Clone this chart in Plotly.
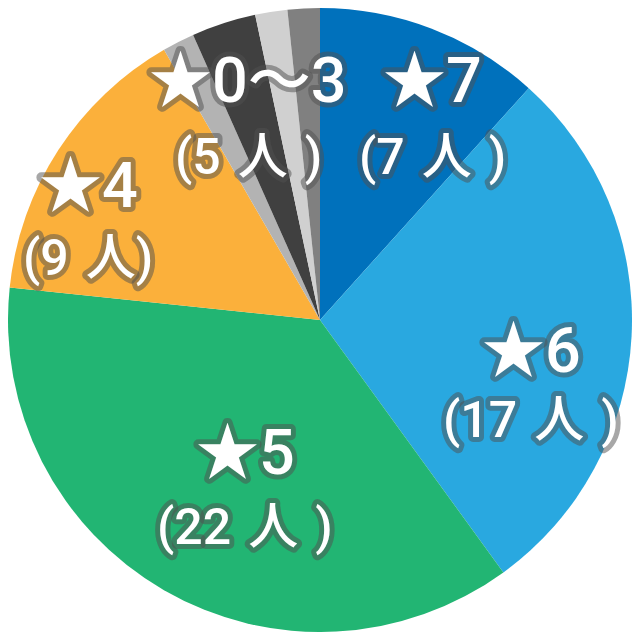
import plotly.graph_objects as go

# slices, clockwise from 12 o'clock
ratings = ['★7', '★6', '★5', '★4', '★3', '★2', '★1', '★0']
people = [7, 17, 22, 9, 1, 2, 1, 1]
colors = ['#0071BC', '#29A8E0', '#22B573', '#FBB03B',
          '#B3B3B3', '#404040', '#D0D0D0', '#808080']

# label groups (★0〜3 is one label spanning the grey slices)
label_titles = ['★7', '★6', '★5', '★4', '★0〜3']
label_counts = ['(7\u2004人\u2004)', '(17\u2004人\u2004)', '(22\u2004人\u2004)',
                '(9\u2004人)', '(5\u2004人\u2004)']

# label centres in page pixels: (x, y line1, y line2)
label_pos = [(432, 80, 157), (531, 350, 420), (245, 452, 527),
             (88, 185, 258), (248, 80, 157)]

# page body has an 8px margin, so the figure itself is 624 wide
W = H = 624
OFF = 8

fig = go.Figure(go.Pie(
    labels=ratings,
    values=people,
    sort=False,
    direction='clockwise',
    rotation=0,
    marker=dict(colors=colors, line=dict(width=0)),
    textinfo='none',
    hoverinfo='label+value',
    showlegend=False,
))

font_family = 'Roboto, Noto Sans CJK JP, sans-serif'
annotations = []
for title, count, (px, py1, py2) in zip(label_titles, label_counts, label_pos):
    x = (px - OFF) / W
    annotations.append(dict(
        text=title, x=x, y=1 - (py1 - OFF) / H, xref='paper', yref='paper',
        showarrow=False, xanchor='center', yanchor='middle',
        font=dict(family=font_family, size=63, color='white', weight=500)))
    annotations.append(dict(
        text=count, x=x, y=1 - (py2 - OFF) / H, xref='paper', yref='paper',
        showarrow=False, xanchor='center', yanchor='middle',
        font=dict(family=font_family, size=50, color='white', weight=500)))

fig.update_layout(
    width=W, height=H,
    margin=dict(l=0, r=0, t=0, b=0),
    paper_bgcolor='white',
    plot_bgcolor='white',
    annotations=annotations,
)

# semi-transparent outline round the label text
outline_js = """
document.querySelectorAll('.annotation-text').forEach(function (t) {
    t.style.paintOrder = 'stroke';
    t.style.stroke = 'rgba(80,80,80,0.5)';
    t.style.strokeWidth = '10px';
    t.style.strokeLinejoin = 'round';
});
"""

fig.write_html('out.html', post_script=outline_js)
